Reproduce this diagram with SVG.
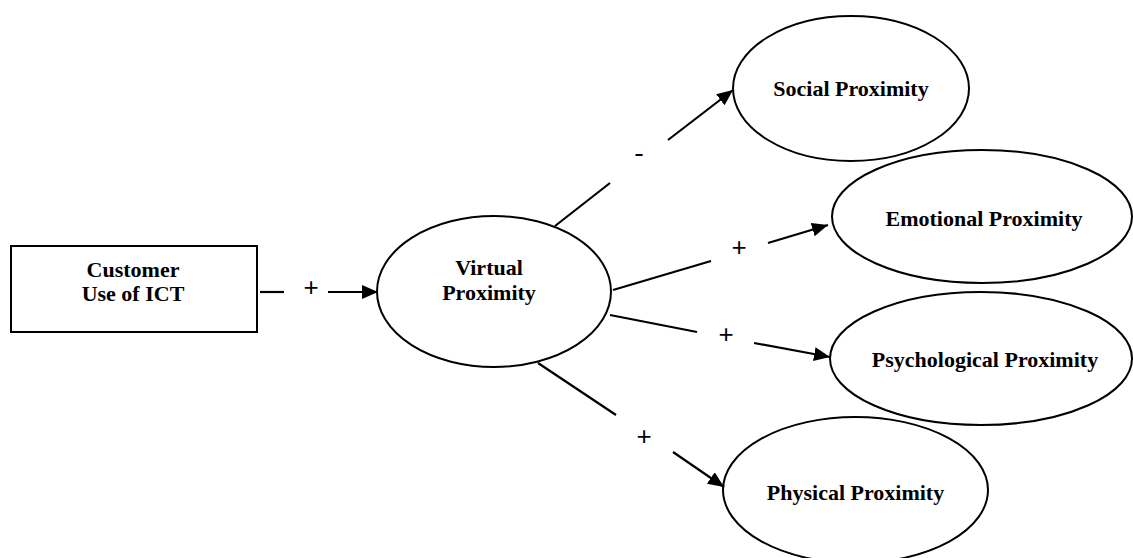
<svg xmlns="http://www.w3.org/2000/svg" width="1133" height="558" viewBox="0 0 1133 558">
<style>
.shape{fill:#fff;stroke:#000;stroke-width:2}
.lbl{font-family:"Liberation Serif","Times New Roman",serif;font-weight:bold;font-size:22px;fill:#000;text-anchor:middle}
.sign{font-family:"Liberation Sans",Arial,sans-serif;font-size:26px;fill:#000;text-anchor:middle}
.dash{font-family:"Liberation Serif","Times New Roman",serif;font-size:27px;fill:#000;text-anchor:middle}
.ln{stroke:#000;stroke-width:2.2;fill:none}
</style>
<defs>
<marker id="arr" markerUnits="userSpaceOnUse" markerWidth="18" markerHeight="15" refX="16" refY="7" orient="auto">
<path d="M0,0 L16,7 L0,14 Z" fill="#000"/>
</marker>
</defs>
<rect width="1133" height="558" fill="#fff"/>
<g id="customer">
<rect class="shape" x="11" y="246" width="246" height="86"/>
<text class="lbl" x="133" y="277">Customer</text>
<text class="lbl" x="133" y="301">Use of ICT</text>
</g>
<g id="virtual">
<ellipse class="shape" cx="494" cy="291.5" rx="117" ry="75.5"/>
<text class="lbl" x="489" y="275">Virtual</text>
<text class="lbl" x="489" y="300">Proximity</text>
</g>
<g id="social">
<ellipse class="shape" cx="851" cy="88.5" rx="118" ry="72.5"/>
<text class="lbl" x="851" y="96">Social Proximity</text>
</g>
<g id="emotional">
<ellipse class="shape" cx="982" cy="216.5" rx="150" ry="66.5"/>
<text class="lbl" x="984" y="226">Emotional Proximity</text>
</g>
<g id="psychological">
<ellipse class="shape" cx="981" cy="358.5" rx="151" ry="66.5"/>
<text class="lbl" x="985" y="367">Psychological Proximity</text>
</g>
<g id="physical">
<ellipse class="shape" cx="855.5" cy="490" rx="132.5" ry="73"/>
<text class="lbl" x="855.5" y="500">Physical Proximity</text>
</g>
<g id="connectors">
<line class="ln" x1="260" y1="292" x2="284" y2="292"/>
<line class="ln" x1="328" y1="292" x2="378" y2="292" marker-end="url(#arr)"/>
<text class="sign" x="311" y="296">+</text>
<line class="ln" x1="555" y1="226" x2="610" y2="183"/>
<line class="ln" x1="668" y1="140" x2="733" y2="90" marker-end="url(#arr)"/>
<text class="dash" x="639" y="161">-</text>
<line class="ln" x1="613" y1="290" x2="711" y2="261"/>
<line class="ln" x1="768" y1="243" x2="828" y2="225" marker-end="url(#arr)"/>
<text class="sign" x="739" y="256">+</text>
<line class="ln" x1="610" y1="315" x2="697" y2="332"/>
<line class="ln" x1="754" y1="343" x2="830" y2="357" marker-end="url(#arr)"/>
<text class="sign" x="726" y="343">+</text>
<line class="ln" x1="538" y1="363" x2="616" y2="415"/>
<line class="ln" x1="673" y1="452" x2="724" y2="487" marker-end="url(#arr)"/>
<text class="sign" x="644" y="445">+</text>
</g>
</svg>
